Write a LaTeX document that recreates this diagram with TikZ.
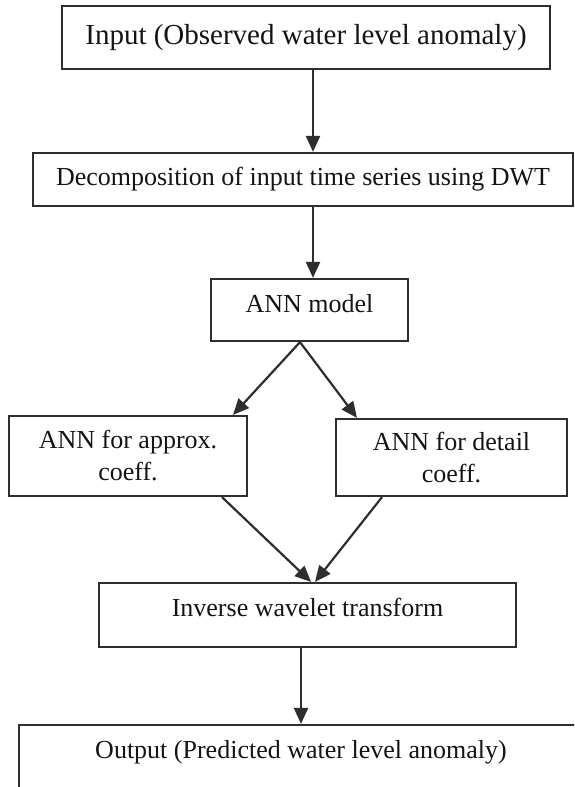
\documentclass[tikz,border=0pt]{standalone}
\usepackage{fontspec}
\setmainfont{Liberation Serif}
\usetikzlibrary{arrows.meta}

\definecolor{inkline}{HTML}{2E2E2E}
\definecolor{inktext}{HTML}{141414}

\tikzset{
  flowbox/.style={draw=inkline, line width=2.2pt, rectangle, align=center,
    text=inktext, inner sep=0pt, font=\fontsize{26}{32}\selectfont},
  flowarrow/.style={draw=inkline, line width=2.2pt,
    -{Triangle[length=16pt,width=14pt]}}
}

\begin{document}
\begin{tikzpicture}[x=1pt, y=-1pt]
  \useasboundingbox (0,0) rectangle (574,787);
  \clip (0,0) rectangle (574,787);

  % process boxes
  \node[flowbox, minimum width=488pt, minimum height=63pt,
        font=\fontsize{29}{32}\selectfont] (input) at (306,37.5)
        {Input (Observed water level anomaly)};
  \node[flowbox, minimum width=540pt, minimum height=53pt] (dwt) at (303,179.5)
        {Decomposition of input time series using DWT};
  \node[flowbox, minimum width=197pt, minimum height=62pt, text depth=14pt] (ann) at (309.5,310)
        {ANN model};
  \node[flowbox, minimum width=238pt, minimum height=80pt] (approx) at (128,456)
        {ANN for approx.\\coeff.};
  \node[flowbox, minimum width=231pt, minimum height=77pt] (detail) at (451.5,457.5)
        {ANN for detail\\coeff.};
  \node[flowbox, minimum width=417pt, minimum height=64pt, text depth=16pt] (iwt) at (307.5,615)
        {Inverse wavelet transform};
  \node[flowbox, minimum width=564pt, minimum height=68pt, text depth=20pt] (output) at (301,759)
        {Output (Predicted water level anomaly)};

  % vertical line shared by the first two arrows
  \coordinate (spine) at (313,0);

  % connectors
  \draw[flowarrow] (input.south -| spine) -- (dwt.north -| spine);
  \draw[flowarrow] (dwt.south -| spine) -- (ann.north -| spine);
  \draw[flowarrow] ([xshift=-9.5pt]ann.south) -- ([xshift=105pt]approx.north);
  \draw[flowarrow] ([xshift=-9.5pt]ann.south) -- ([xshift=-94.5pt]detail.north);
  \draw[flowarrow] ([xshift=94pt]approx.south) -- ([xshift=3.5pt]iwt.north);
  \draw[flowarrow] ([xshift=-69.5pt]detail.south) -- ([xshift=7.5pt]iwt.north);
  \draw[flowarrow] ([xshift=-6.5pt]iwt.south) -- (output.north);
\end{tikzpicture}
\end{document}
